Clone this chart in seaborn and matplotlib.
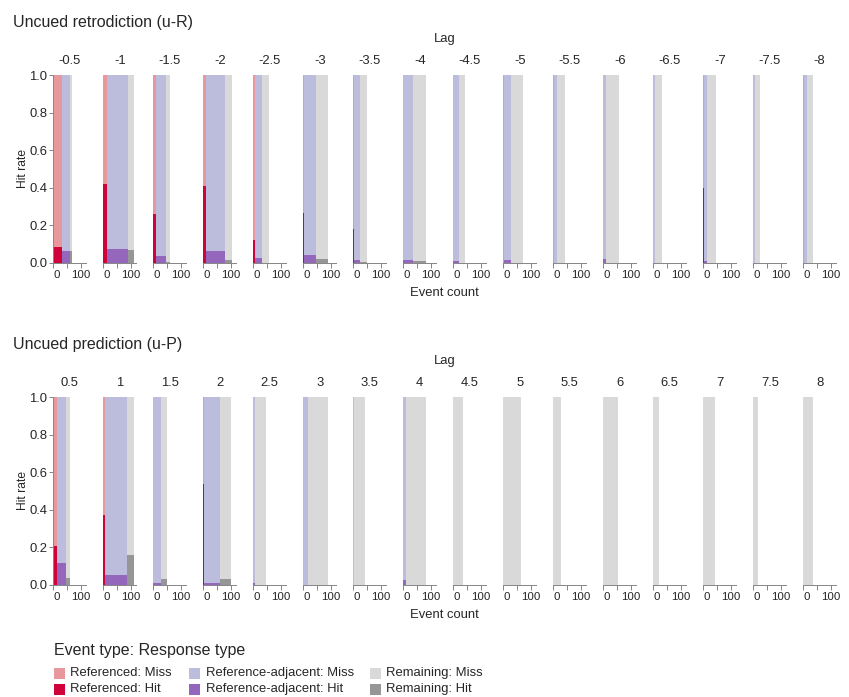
import numpy as np
import pandas as pd
import matplotlib
matplotlib.use("Agg")
import matplotlib.pyplot as plt
from matplotlib.patches import Rectangle
import seaborn as sns

# ---- data -------------------------------------------------------------
event_types = ["Referenced", "Reference-adjacent", "Remaining"]
miss_colors = ["#e8989c", "#bcbddc", "#d9d9d9"]
hit_colors = ["#d0023a", "#9467bd", "#969696"]

# Uncued retrodiction (u-R)
lags_r = [-0.5, -1, -1.5, -2, -2.5, -3, -3.5, -4, -4.5, -5, -5.5, -6, -6.5, -7, -7.5, -8]
r_ref_n = [32, 14, 10, 10, 8, 4, 4, 0, 0, 3, 1, 0, 0, 4, 0, 1]
r_adj_n = [30, 77, 36, 69, 22, 44, 22, 35, 22, 25, 11, 11, 7, 11, 7, 11]
r_rem_n = [7, 22, 15, 26, 26, 43, 25, 49, 22, 44, 29, 47, 26, 33, 18, 22]
r_ref_hit = [0.084, 0.42, 0.26, 0.41, 0.12, 0.265, 0.178, 0, 0, 0, 0, 0, 0, 0.40, 0, 0]
r_adj_hit = [0.062, 0.073, 0.036, 0.062, 0.027, 0.039, 0.014, 0.014, 0.011, 0.016, 0, 0.02, 0, 0.011, 0, 0]
r_rem_hit = [0.062, 0.068, 0.005, 0.014, 0, 0.018, 0.004, 0.008, 0, 0, 0, 0, 0, 0, 0, 0]

# Uncued prediction (u-P)
lags_p = [0.5, 1, 1.5, 2, 2.5, 3, 3.5, 4, 4.5, 5, 5.5, 6, 6.5, 7, 7.5, 8]
p_ref_n = [13, 6, 0, 4, 0, 0, 0, 0, 0, 0, 0, 0, 0, 0, 0, 0]
p_adj_n = [33, 80, 27, 57, 6, 18, 4, 11, 0, 0, 0, 0, 0, 0, 0, 0]
p_rem_n = [15, 26, 22, 40, 40, 72, 40, 73, 36, 66, 29, 55, 22, 44, 18, 36]
p_ref_hit = [0.207, 0.369, 0, 0.537, 0, 0, 0, 0, 0, 0, 0, 0, 0, 0, 0, 0]
p_adj_hit = [0.117, 0.053, 0.011, 0.011, 0.011, 0, 0, 0.023, 0, 0, 0, 0, 0, 0, 0, 0]
p_rem_hit = [0.037, 0.16, 0.032, 0.032, 0, 0, 0, 0, 0, 0, 0, 0, 0, 0, 0, 0]

x_max = 120

# ---- style ------------------------------------------------------------
sns.set_theme(style="white")
plt.rcParams["font.family"] = ["Liberation Sans", "DejaVu Sans"]

W, H, DPI = 849, 697, 100
PT = 72 / DPI  # points per pixel
AXIS_GREY = "#888888"

fig = plt.figure(figsize=(W / DPI, H / DPI), dpi=DPI)


def fx(x):
    return x / W


def fy(y):
    return 1 - y / H


def draw_facet(ax, counts, hits):
    rows = [(t, n, h) for t, n, h in zip(event_types, counts, hits) if n > 0]
    df = pd.DataFrame(rows, columns=["event", "n", "hit"])
    edges = [0.0] + [float(v) for v in np.cumsum(df["n"].to_numpy(float))]
    df["mid"] = [(a + b) / 2 for a, b in zip(edges[:-1], edges[1:])]
    df["full"] = 1.0
    order = list(df["event"])
    miss_pal = {t: c for t, c in zip(event_types, miss_colors)}
    hit_pal = {t: c for t, c in zip(event_types, hit_colors)}
    sns.histplot(data=df, x="mid", weights="full", bins=edges, hue="event",
                 hue_order=order, palette=miss_pal, multiple="layer",
                 alpha=1, linewidth=0, legend=False, ax=ax)
    sns.histplot(data=df, x="mid", weights="hit", bins=edges, hue="event",
                 hue_order=order, palette=hit_pal, multiple="layer",
                 alpha=1, linewidth=0, legend=False, ax=ax)


def draw_row(top_px, title, lags, ref_n, adj_n, rem_n, ref_hit, adj_hit, rem_hit):
    plot_h = 187.7
    bottom_px = top_px + plot_h
    left0, step, width = 53.3, 50.0, 32.9
    fig.text(fx(13), fy(top_px - 48), title, fontsize=16 * PT, ha="left", va="baseline")
    grid_center = left0 + (step * (len(lags) - 1) + width) / 2
    fig.text(fx(grid_center), fy(top_px - 33), "Lag", fontsize=13 * PT, ha="center", va="baseline")
    fig.text(fx(grid_center), fy(bottom_px + 33.5), "Event count", fontsize=13 * PT,
             ha="center", va="baseline")
    fig.text(fx(23.5), fy(top_px + plot_h / 2), "Hit rate", fontsize=12 * PT,
             ha="center", va="center", rotation=90)
    for i, lag in enumerate(lags):
        left = left0 + step * i
        ax = fig.add_axes([fx(left), fy(bottom_px), width / W, plot_h / H])
        draw_facet(ax, [ref_n[i], adj_n[i], rem_n[i]], [ref_hit[i], adj_hit[i], rem_hit[i]])
        ax.set_xlim(0, x_max)
        ax.set_ylim(0, 1)
        ax.set(xlabel="", ylabel="")
        ax.set_facecolor("none")
        for s in ["top", "right"]:
            ax.spines[s].set_visible(False)
        ax.spines["bottom"].set_color(AXIS_GREY)
        ax.spines["bottom"].set_linewidth(1 * PT)
        ax.spines["bottom"].set_zorder(5)
        ax.set_xticks([0, 50, 100])
        ax.set_xticklabels(["0", "", "100"])
        ax.get_xticklabels()[0].set_horizontalalignment("left")
        ax.tick_params(axis="x", length=5 * PT, width=1 * PT, color=AXIS_GREY,
                       pad=2 * PT, labelsize=11.5 * PT, bottom=True)
        if i == 0:
            ax.spines["left"].set_color(AXIS_GREY)
            ax.spines["left"].set_linewidth(1 * PT)
            ax.spines["left"].set_zorder(5)
            ax.set_yticks([0, 0.2, 0.4, 0.6, 0.8, 1.0])
            ax.set_yticklabels([f"{v:.1f}" for v in [0, 0.2, 0.4, 0.6, 0.8, 1.0]])
            ax.tick_params(axis="y", length=4.5 * PT, width=1 * PT, color=AXIS_GREY,
                           pad=1.5 * PT, labelsize=13 * PT, left=True)
        else:
            ax.spines["left"].set_visible(False)
            ax.set_yticks([])
        lab = f"{lag:g}"
        fig.text(fx(left + width / 2), fy(top_px - 11), lab, fontsize=13 * PT,
                 ha="center", va="baseline")


draw_row(75.0, "Uncued retrodiction (u-R)", lags_r, r_ref_n, r_adj_n, r_rem_n,
         r_ref_hit, r_adj_hit, r_rem_hit)
draw_row(397.0, "Uncued prediction (u-P)", lags_p, p_ref_n, p_adj_n, p_rem_n,
         p_ref_hit, p_adj_hit, p_rem_hit)

# ---- legend -----------------------------------------------------------
fig.text(fx(54), fy(655), "Event type: Response type", fontsize=16 * PT,
         ha="left", va="baseline")
col_x = [54, 189, 370]
row_y = [673, 689]
sw = 11
for j, t in enumerate(event_types):
    for k, (resp, colors) in enumerate([("Miss", miss_colors), ("Hit", hit_colors)]):
        x, y = col_x[j], row_y[k]
        fig.patches.append(Rectangle((fx(x), fy(y + sw / 2)), sw / W, sw / H,
                                     transform=fig.transFigure, facecolor=colors[j],
                                     edgecolor="none"))
        fig.text(fx(x + 16.5), fy(y), f"{t}: {resp}", fontsize=13 * PT,
                 ha="left", va="center")

fig.savefig("out.png", dpi=DPI)
